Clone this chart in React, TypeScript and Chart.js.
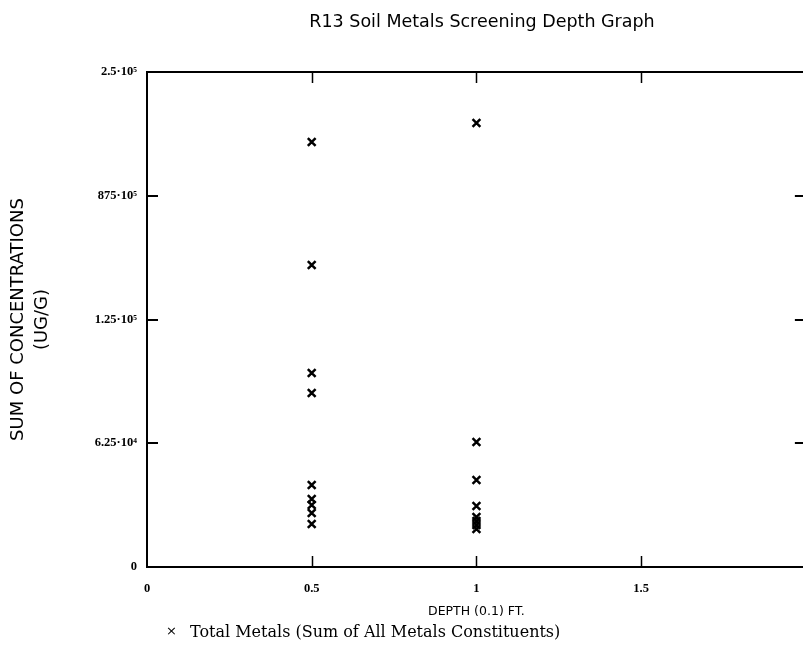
import React, { useEffect, useRef } from "react";
import { Chart, registerables } from "chart.js";

Chart.register(...registerables);

// ---- data ----
const chartTitle = "R13 Soil Metals Screening Depth Graph";
const seriesLabel = "Total Metals (Sum of All Metals Constituents)";
const xAxisTitle = "DEPTH (0.1) FT.";
const yAxisTitle = ["SUM OF CONCENTRATIONS", "(UG/G)"];

const depths = [0.5, 0.5, 0.5, 0.5, 0.5, 0.5, 0.5, 0.5, 0.5, 1, 1, 1, 1, 1, 1, 1, 1];
const totalMetals = [
  214600, 152500, 98000, 87900, 41400, 34300, 31300, 27300, 21700,
  224200, 63100, 43900, 30800, 25200, 23200, 21200, 19200,
];

const xTickValues = [0, 0.5, 1, 1.5, 2];
const xTickLabels = ["0", "0.5", "1", "1.5", "2"];
const yTickValues = [0, 62500, 125000, 187500, 250000];
const yTickLabels = ["0", "6.25\u00B710\u2074", "1.25\u00B710\u2075", "875\u00B710\u2075", "2.5\u00B710\u2075"];

const innerTickX = [0.5, 1, 1.5];
const innerTickY = [62500, 125000, 187500];

const framePlugin = {
  id: "frame",
  afterDatasetsDraw(chart: any) {
    const { ctx, chartArea } = chart;
    const xs = chart.scales.x;
    const ys = chart.scales.y;
    const { left, right, top, bottom } = chartArea;
    ctx.save();
    ctx.strokeStyle = "#000";
    ctx.lineWidth = 2;
    ctx.beginPath();
    ctx.moveTo(left, top);
    ctx.lineTo(right, top);
    ctx.lineTo(right, bottom);
    ctx.lineTo(left, bottom);
    ctx.closePath();
    ctx.stroke();
    ctx.lineWidth = 1.5;
    const tl = 11;
    ctx.beginPath();
    innerTickX.forEach((v) => {
      const px = Math.round(xs.getPixelForValue(v)) + 0.5;
      ctx.moveTo(px, bottom);
      ctx.lineTo(px, bottom - tl);
      ctx.moveTo(px, top);
      ctx.lineTo(px, top + tl);
    });
    ctx.stroke();
    ctx.lineWidth = 2;
    ctx.beginPath();
    innerTickY.forEach((v) => {
      const py = Math.round(ys.getPixelForValue(v));
      ctx.moveTo(left, py);
      ctx.lineTo(left + tl, py);
      ctx.moveTo(right, py);
      ctx.lineTo(right - tl, py);
    });
    ctx.stroke();
    ctx.restore();
  },
};

const textPlugin = {
  id: "customTexts",
  afterDraw(chart: any) {
    const { ctx } = chart;
    ctx.save();
    ctx.fillStyle = "#000";
    ctx.textBaseline = "middle";
    ctx.textAlign = "center";
    ctx.font = "17.5px 'DejaVu Sans'";
    ctx.fillText(chartTitle, 482, 22);
    ctx.textAlign = "left";
    ctx.font = "13px 'DejaVu Sans'";
    ctx.fillText("\u00D7", 166, 632);
    ctx.font = "16px 'DejaVu Serif'";
    ctx.fillText(seriesLabel, 190, 633);
    ctx.restore();
  },
};

export default function App() {
  const ref = useRef<HTMLCanvasElement | null>(null);

  useEffect(() => {
    if (!ref.current) return;
    const chart = new Chart(ref.current, {
      type: "scatter",
      data: {
        datasets: [
          {
            label: seriesLabel,
            data: depths.map((d, i) => ({ x: d, y: totalMetals[i] })),
            pointStyle: "crossRot",
            pointRadius: 5.5,
            pointHoverRadius: 5.5,
            pointBorderWidth: 2.5,
            borderColor: "#000",
            backgroundColor: "#000",
          },
        ],
      },
      options: {
        responsive: false,
        animation: false,
        events: [],
        layout: { padding: { left: 0, right: 9, top: 72, bottom: 0 } },
        plugins: {
          legend: { display: false },
          tooltip: { enabled: false },
          title: { display: false },
        },
        scales: {
          x: {
            type: "linear",
            min: 0,
            max: 2,
            afterFit: (s: any) => {
              s.height = 93;
            },
            afterBuildTicks: (s: any) => {
              s.ticks = xTickValues.map((v) => ({ value: v }));
            },
            grid: { display: false, drawTicks: false },
            border: { display: false },
            ticks: {
              padding: 14,
              color: "#000",
              font: { family: "'Liberation Serif'", size: 12.5, weight: "bold" },
              callback: (v: any) => {
                const i = xTickValues.indexOf(Number(v));
                return i >= 0 ? xTickLabels[i] : "";
              },
            },
            title: {
              display: true,
              text: xAxisTitle,
              color: "#000",
              font: { family: "'DejaVu Sans'", size: 12.5, lineHeight: 1.2 },
              padding: { top: 0, bottom: 41 },
            },
          },
          y: {
            type: "linear",
            min: 0,
            max: 250000,
            afterFit: (s: any) => {
              s.width = 147;
            },
            afterBuildTicks: (s: any) => {
              s.ticks = yTickValues.map((v) => ({ value: v }));
            },
            grid: { display: false, drawTicks: false },
            border: { display: false },
            ticks: {
              padding: 10,
              color: "#000",
              font: { family: "'Liberation Serif'", size: 12.5, weight: "bold" },
              callback: (v: any) => {
                const i = yTickValues.indexOf(Number(v));
                return i >= 0 ? yTickLabels[i] : "";
              },
            },
            title: {
              display: true,
              text: yAxisTitle,
              color: "#000",
              font: { family: "'DejaVu Sans'", size: 18, lineHeight: 1.333 },
              padding: { top: 6, bottom: 0 },
            },
          },
        },
      },
      plugins: [framePlugin, textPlugin],
    });
    return () => chart.destroy();
  }, []);

  return (
    <div
      style={{
        position: "fixed",
        left: 0,
        top: 0,
        width: 803,
        height: 660,
        overflow: "hidden",
        background: "#fff",
      }}
    >
      <canvas ref={ref} width={823} height={660} style={{ display: "block" }} />
    </div>
  );
}
